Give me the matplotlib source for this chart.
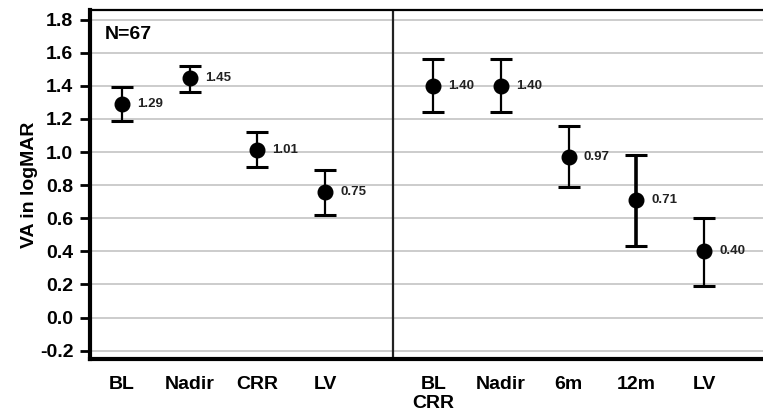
import matplotlib
matplotlib.use("Agg")
import matplotlib.pyplot as plt

# Left panel (N=67)
left_labels = ["BL", "Nadir", "CRR", "LV"]
left_x = [0, 1, 2, 3]
left_vals = [1.29, 1.45, 1.01, 0.75]
left_plot = [1.29, 1.45, 1.01, 0.76]
left_low = [1.19, 1.36, 0.91, 0.62]
left_high = [1.39, 1.52, 1.12, 0.89]

# Right panel
right_labels = ["BL\nCRR", "Nadir", "6m", "12m", "LV"]
right_x = [4.6, 5.6, 6.6, 7.6, 8.6]
right_vals = [1.40, 1.40, 0.97, 0.71, 0.40]
right_low = [1.24, 1.24, 0.79, 0.43, 0.19]
right_high = [1.56, 1.56, 1.16, 0.98, 0.60]

yticks = [-0.2, 0.0, 0.2, 0.4, 0.6, 0.8, 1.0, 1.2, 1.4, 1.6, 1.8]

plt.rcParams['font.family'] = ['Liberation Sans', 'DejaVu Sans']

fig = plt.figure(figsize=(7.63, 4.13), dpi=100)
ax = fig.add_axes([90/763, 54/413, 673/763, 349/413])

ax.set_ylim(-0.25, 1.858)
ax.set_xlim(-0.47, 9.47)

for y in yticks:
    ax.axhline(y, color="#c8c8c8", lw=1.3, zorder=0)

def draw(xs, vals, plotvals, lows, highs, widths):
    for x, v, pv, lo, hi, w in zip(xs, vals, plotvals, lows, highs, widths):
        ax.errorbar([x], [pv], yerr=[[pv - lo], [hi - pv]], fmt="o", color="black",
                    ms=10.5, elinewidth=w, capsize=8, capthick=2.2, zorder=3)
        ax.annotate(f"{v:.2f}", (x, pv), xytext=(11, 0), textcoords="offset points",
                    ha="left", va="center", fontsize=9.5, fontweight="bold", color="#222222")

draw(left_x, left_vals, left_plot, left_low, left_high, [1.6] * 4)
draw(right_x, right_vals, right_vals, right_low, right_high, [1.6, 1.6, 1.6, 2.6, 1.6])

ax.axvline(4.0, color="#222222", lw=1.6, zorder=2)

ax.set_xticks(left_x + right_x)
ax.set_xticklabels(left_labels + right_labels, fontsize=14, fontweight="bold", va="top",
                   linespacing=1.15)
ax.tick_params(axis="x", length=0, pad=12)
ax.set_yticks(yticks)
ax.set_yticklabels([f"{t:.1f}" for t in yticks], fontsize=14, fontweight="bold")
ax.tick_params(axis="y", length=7, width=2, direction="out", pad=5)

ax.set_ylabel("VA in logMAR", fontsize=14, fontweight="bold", labelpad=1)

ax.text(0.022, 0.955, "N=67", transform=ax.transAxes, fontsize=14, fontweight="bold",
        ha="left", va="top")

for s in ["left", "bottom"]:
    ax.spines[s].set_linewidth(3)
ax.spines["top"].set_linewidth(1.6)
ax.spines["right"].set_visible(False)

fig.savefig("out.png", dpi=100)
